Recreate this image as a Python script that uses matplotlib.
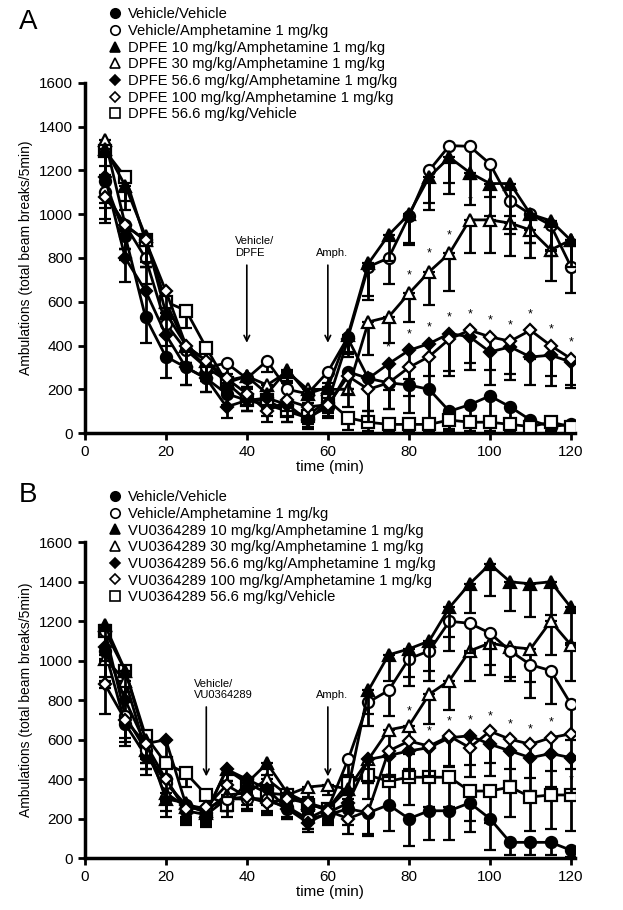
import numpy as np
import matplotlib.pyplot as plt
from matplotlib.lines import Line2D

plt.rcParams['font.family'] = ['Liberation Sans', 'DejaVu Sans']

t = np.arange(5, 125, 5)

# ---- Panel A (DPFE) ----
a_vv = [1150, 900, 530, 350, 300, 250, 180, 150, 130, 100, 70, 120, 280, 250, 230, 220, 200, 100, 130, 170, 120, 60, 30, 40]
a_va = [1100, 950, 800, 500, 380, 300, 320, 250, 330, 200, 180, 280, 440, 760, 800, 990, 1200, 1313, 1310, 1230, 1060, 1000, 950, 760]
a_d10 = [1300, 1130, 900, 550, 400, 330, 230, 260, 180, 290, 180, 210, 450, 775, 905, 1000, 1170, 1260, 1190, 1140, 1140, 1000, 970, 880]
a_d30 = [1340, 950, 880, 600, 400, 300, 240, 260, 220, 280, 200, 200, 200, 508, 531, 638, 737, 821, 974, 974, 959, 928, 837, 882]
a_d56 = [1170, 800, 650, 450, 300, 250, 120, 150, 160, 130, 60, 140, 430, 250, 317, 378, 409, 455, 440, 371, 394, 348, 356, 325]
a_d100 = [1080, 950, 880, 650, 400, 330, 250, 180, 100, 150, 120, 130, 260, 200, 230, 300, 350, 430, 470, 440, 420, 470, 400, 340]
a_dveh = [1290, 1170, 880, 600, 560, 390, 230, 150, 150, 100, 80, 150, 70, 50, 40, 40, 40, 60, 50, 50, 40, 30, 50, 30]
a_err = [120, 110, 120, 100, 80, 60, 50, 50, 50, 50, 40, 50, 80, 150, 120, 130, 150, 170, 150, 150, 150, 130, 140, 120]

# ---- Panel B (VU0364289) ----
b_vv = [1050, 680, 520, 400, 240, 220, 300, 310, 290, 260, 200, 220, 250, 230, 270, 200, 240, 240, 280, 200, 80, 80, 80, 40]
b_va = [1150, 720, 550, 380, 270, 250, 300, 300, 300, 250, 200, 250, 500, 790, 850, 1010, 1050, 1200, 1190, 1140, 1050, 980, 950, 780]
b_v10 = [1180, 950, 600, 300, 280, 230, 450, 380, 480, 330, 280, 250, 350, 850, 1030, 1060, 1100, 1270, 1390, 1490, 1400, 1390, 1400, 1270]
b_v30 = [1010, 900, 550, 330, 260, 240, 320, 330, 400, 320, 360, 370, 350, 500, 650, 670, 830, 900, 1050, 1090, 1070, 1060, 1200, 1080]
b_v56 = [1070, 800, 580, 600, 270, 230, 450, 400, 350, 250, 180, 230, 280, 500, 520, 543, 560, 610, 620, 577, 543, 509, 530, 509]
b_v100 = [880, 700, 580, 400, 250, 260, 370, 310, 280, 300, 280, 240, 200, 240, 543, 593, 568, 618, 560, 643, 602, 577, 610, 630]
b_vveh = [1150, 950, 620, 480, 430, 320, 270, 380, 330, 320, 270, 250, 380, 420, 390, 410, 410, 410, 340, 340, 360, 310, 320, 320]
b_err = [150, 110, 100, 90, 70, 60, 60, 60, 60, 50, 50, 50, 80, 120, 130, 140, 150, 150, 150, 160, 150, 170, 170, 180]

a_labels = ["Vehicle/Vehicle", "Vehicle/Amphetamine 1 mg/kg",
            "DPFE 10 mg/kg/Amphetamine 1 mg/kg", "DPFE 30 mg/kg/Amphetamine 1 mg/kg",
            "DPFE 56.6 mg/kg/Amphetamine 1 mg/kg", "DPFE 100 mg/kg/Amphetamine 1 mg/kg",
            "DPFE 56.6 mg/kg/Vehicle"]
b_labels = ["Vehicle/Vehicle", "Vehicle/Amphetamine 1 mg/kg",
            "VU0364289 10 mg/kg/Amphetamine 1 mg/kg", "VU0364289 30 mg/kg/Amphetamine 1 mg/kg",
            "VU0364289 56.6 mg/kg/Amphetamine 1 mg/kg", "VU0364289 100 mg/kg/Amphetamine 1 mg/kg",
            "VU0364289 56.6 mg/kg/Vehicle"]

# marker, filled?
styles = [("o", True), ("o", False), ("^", True), ("^", False),
          ("D", True), ("D", False), ("s", False)]

# asterisk positions (times)
a_star30 = [80, 85, 90, 95]
a_stard = [75, 80, 85, 90, 95, 100, 105, 110, 115, 120]
b_stard = [80, 85, 90, 95, 100, 105, 110, 115]
b_starlow = [70, 75]


def draw_panel(ax, series, labels, err, drug_txt, drug_t, leg_y):
    handles = []
    for i, (y, lab) in enumerate(zip(series, labels)):
        m, filled = styles[i]
        ms = 6 if m == "D" else 8
        fc = "black" if filled else "white"
        ax.errorbar(t, y, yerr=[np.minimum(err, np.array(y) * 0.8), np.zeros(len(y))],
                    color="black", lw=2, marker=m, ms=ms, mew=1.6,
                    mfc=fc, mec="black",
                    capsize=4, capthick=2, elinewidth=2, zorder=3 + i % 3)
        handles.append(Line2D([], [], ls="none", marker=m, ms=ms * 0.85, mew=1.2,
                              mfc=fc, mec="black", label=lab))
    ax.set_xlim(0, 121)
    ax.set_ylim(0, 1600)
    ax.set_xticks(range(0, 121, 20))
    ax.set_yticks(range(0, 1601, 200))
    for s in ["top", "right"]:
        ax.spines[s].set_visible(False)
    for s in ["left", "bottom"]:
        ax.spines[s].set_linewidth(2.5)
    ax.tick_params(width=2, length=5, labelsize=11)
    ax.set_xlabel("time (min)", fontsize=11, labelpad=1)
    ax.set_ylabel("Ambulations (total beam breaks/5min)", fontsize=10)
    ax.legend(handles=handles, loc="upper left", bbox_to_anchor=(0.05, leg_y),
              frameon=False, fontsize=10.6, handlelength=0.8, handletextpad=0.5,
              labelspacing=0.18, borderaxespad=0, borderpad=0)
    ax.annotate("", xy=(drug_t, 400), xytext=(drug_t, 780),
                arrowprops=dict(arrowstyle="->", lw=1.2, color="black"))
    ax.text(drug_t - 3, 800, drug_txt, fontsize=8, va="bottom")
    ax.annotate("", xy=(60, 400), xytext=(60, 780),
                arrowprops=dict(arrowstyle="->", lw=1.2, color="black"))
    ax.text(57, 800, "Amph.", fontsize=8, va="bottom")


fig = plt.figure(figsize=(6.23, 9.10), dpi=100)
axA = fig.add_axes([0.136, 0.524, 0.787, 0.385])
axB = fig.add_axes([0.136, 0.057, 0.787, 0.347])

A = [a_vv, a_va, a_d10, a_d30, a_d56, a_d100, a_dveh]
B = [b_vv, b_va, b_v10, b_v30, b_v56, b_v100, b_vveh]
draw_panel(axA, A, a_labels, a_err, "Vehicle/\nDPFE", 40, 1.215)
draw_panel(axB, B, b_labels, b_err, "Vehicle/\nVU0364289", 30, 1.165)
fig.text(0.03, 0.99, "A", fontsize=20, va="top")
fig.text(0.03, 0.47, "B", fontsize=20, va="top")

for tt in a_star30:
    axA.text(tt, a_d30[tt // 5 - 1] + 70, "*", ha="center", fontsize=9)
for tt in a_stard:
    y = max(a_d56[tt // 5 - 1], a_d100[tt // 5 - 1])
    axA.text(tt, y + 60, "*", ha="center", fontsize=9)
for tt in b_stard:
    y = max(b_v56[tt // 5 - 1], b_v100[tt // 5 - 1], b_v30[tt // 5 - 1] if tt == 80 else 0)
    axB.text(tt, y + 60, "*", ha="center", fontsize=9)
axB.text(120, b_vveh[-1] + 60, "*", ha="center", fontsize=9)
for tt in b_starlow:
    axB.text(tt, b_v100[tt // 5 - 1] - 150, "*", ha="center", fontsize=9)

fig.savefig("out.png", dpi=100)
